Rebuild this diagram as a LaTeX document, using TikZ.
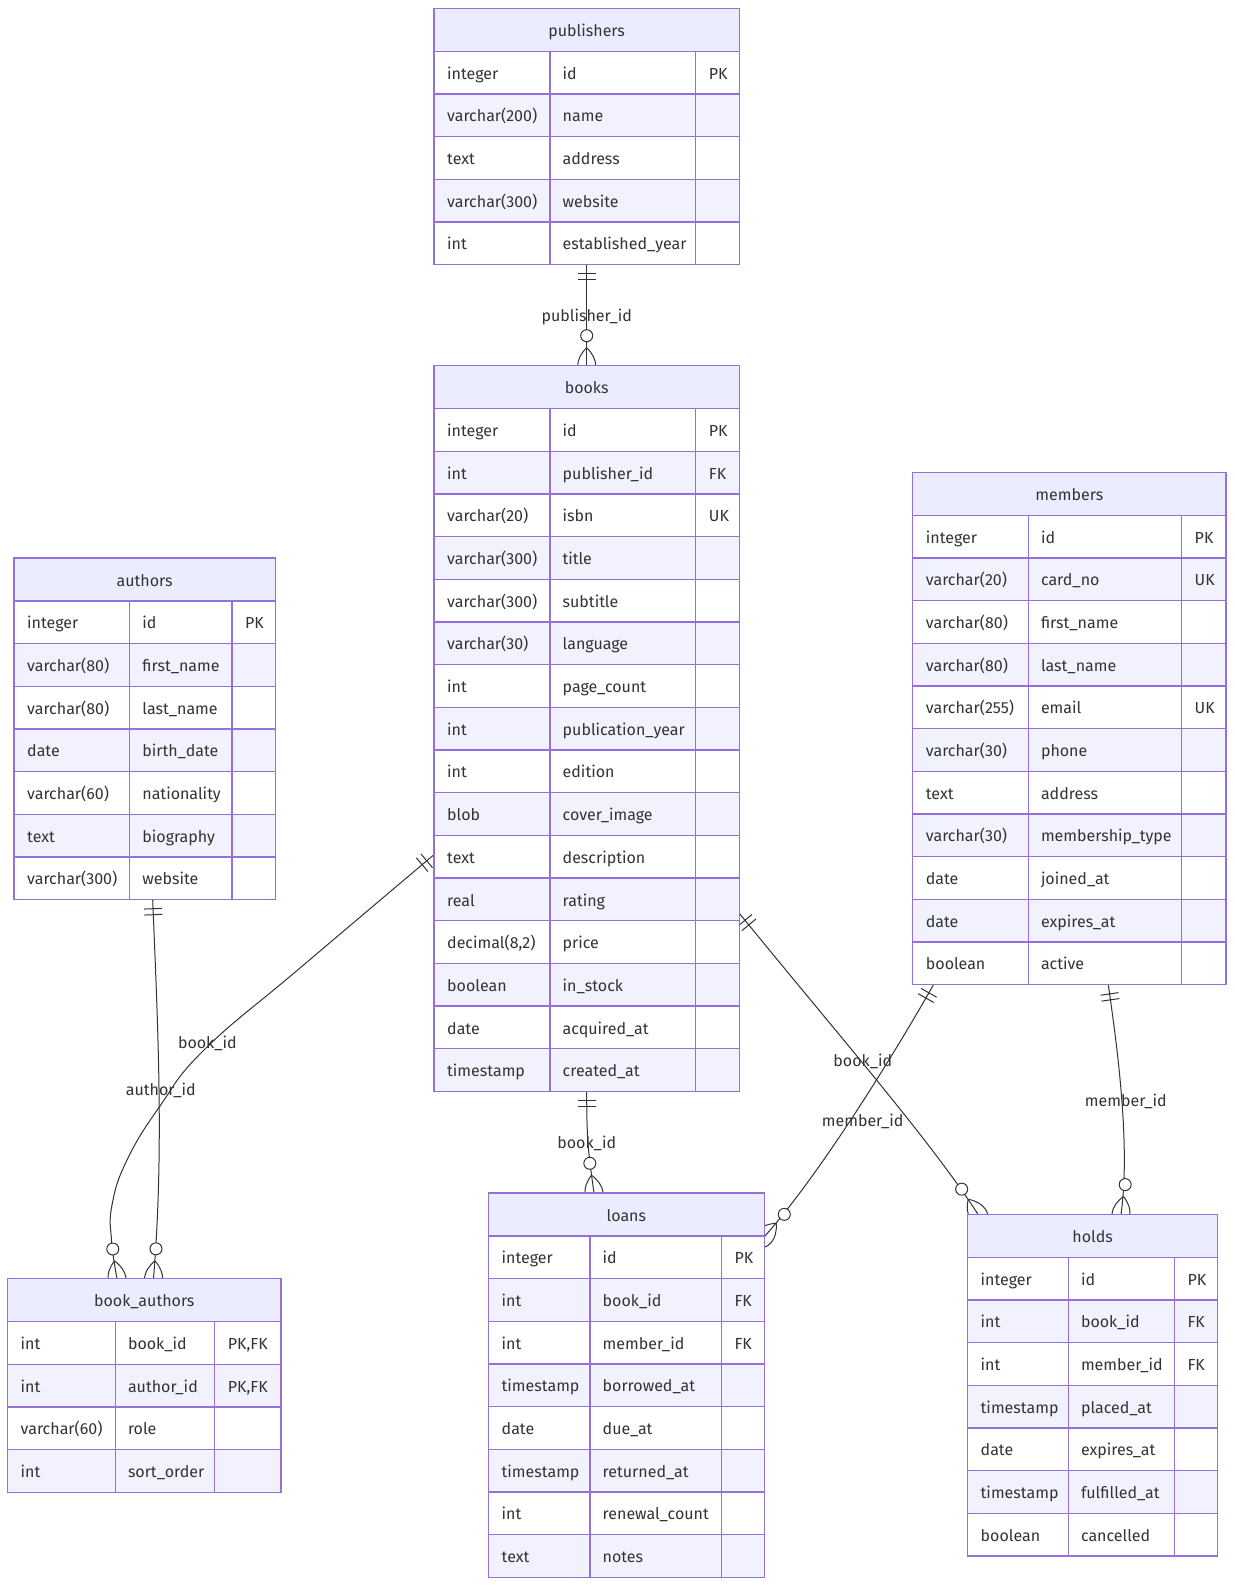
\documentclass[tikz,border=0pt]{standalone}
\usepackage{fontspec}
\setmainfont{Fira Sans}
\usetikzlibrary{calc}
\definecolor{hdr}{HTML}{ECECFF}
\definecolor{rowEven}{HTML}{F2F2FF}
\definecolor{bord}{HTML}{9370DB}
\definecolor{ink}{HTML}{333333}
\tikzset{
  cellbox/.style={draw=bord, line width=1.3pt},
  celltext/.style={anchor=base west, inner sep=0pt, text=ink, font=\fontsize{16}{19}\selectfont},
  titletext/.style={anchor=base, inner sep=0pt, text=ink, font=\fontsize{16}{19}\selectfont},
  edge/.style={draw=ink, line width=1pt},
  elabel/.style={inner sep=0pt, text=ink, font=\fontsize{16}{19}\selectfont},
}
% #1 name, #2 title, #3 xl, #4 ytop, #5 c1, #6 c2, #7 xr, #8 rows
\newcommand\ertable[8]{%
  \coordinate (#1) at (#3,#4);
  \path[cellbox, fill=hdr] (#3,#4) rectangle (#7,#4+43);
  \node[titletext] (#1-title) at ({(#3+#7)/2},#4+21.5+6.6) {#2};
  \foreach \ty/\nm/\ky [count=\i] in {#8} {
    \pgfmathsetmacro\yt{#4+43+(\i-1)*42.67}
    \pgfmathsetmacro\yb{\yt+42.67}
    \pgfmathsetmacro\yc{\yt+21.33+6.6}
    \ifodd\i\relax\def\rc{white}\else\def\rc{rowEven}\fi
    \path[cellbox, fill=\rc] (#3,\yt) rectangle (#5,\yb);
    \path[cellbox, fill=\rc] (#5,\yt) rectangle (#6,\yb);
    \path[cellbox, fill=\rc] (#6,\yt) rectangle (#7,\yb);
    \node[celltext] (#1-t\i) at (#3+13,\yc) {\ty};
    \node[celltext] (#1-n\i) at (#5+12.5,\yc) {\nm};
    \node[celltext] (#1-k\i) at (#6+13,\yc) {\ky};
  }
}
% exactly-one marker at start: #1 coordinate, #2 direction angle (pixel frame)
\newcommand\onestart[2]{%
  \draw[edge] ($(#1)+(#2:9)+(#2+90:9)$) -- ($(#1)+(#2:9)+(#2-90:9)$);
  \draw[edge] ($(#1)+(#2:15)+(#2+90:9)$) -- ($(#1)+(#2:15)+(#2-90:9)$);
}
% zero-or-more marker at end: #1 coordinate, #2 direction angle of travel
\newcommand\manyend[2]{%
  \draw[edge] ($(#1)+(#2+180:18)$)
     .. controls ($(#1)+(#2+180:6)+(#2+90:12)$) and ($(#1)+(#2:6)+(#2+90:12)$) .. ($(#1)+(#2:18)$)
     .. controls ($(#1)+(#2:6)+(#2-90:12)$) and ($(#1)+(#2+180:6)+(#2-90:12)$) .. ($(#1)+(#2+180:18)$);
  \draw[edge, fill=white] ($(#1)+(#2+180:30)$) circle[radius=6pt];
}
\begin{document}
\begin{tikzpicture}[x=1pt, y=-1pt]
\fill[white] (0,0) rectangle (1234,1586);
\useasboundingbox (0,0) rectangle (1234,1586);

% ---------- connector end points ----------
\coordinate (e1s) at (586.7,264.7);  \coordinate (e1e) at (586.7,365.7);
\coordinate (e2s) at (152.7,899.7);  \coordinate (e2e) at (153.5,1278.7);
\coordinate (e3s) at (433.6,855);    \coordinate (e3e) at (117,1278.7);
\coordinate (e4s) at (586.7,1091.4); \coordinate (e4e) at (594,1193);
\coordinate (e5s) at (739.3,913.3);  \coordinate (e5e) at (978,1214.3);
\coordinate (e6s) at (933.3,985);    \coordinate (e6e) at (764.3,1236.7);
\coordinate (e7s) at (1108.3,985);   \coordinate (e7e) at (1121,1214.3);

% ---------- connectors ----------
\draw[edge] (e1s) -- (e1e);
\draw[edge] (e2s) .. controls (158,1030) and (164,1150) .. (e2e);
\draw[edge] plot[smooth, tension=0.75] coordinates {(e3s) (300,968) (205,1049) (160,1106) (127,1160) (112,1205) (111.5,1240) (e3e)};
\draw[edge] (e4s) .. controls (586.7,1140) and (588,1150) .. (e4e);
\draw[edge] (e5s) .. controls (840,1037) and (930,1140) .. (e5e);
\draw[edge] (e6s) .. controls (903.9,1037.3) and (824.3,1169.6) .. (e6e);
\draw[edge] (e7s) .. controls (1116.9,1044.4) and (1130.7,1145) .. (e7e);

\onestart{e1s}{90}    \manyend{e1e}{90}
\onestart{e2s}{87.7}  \manyend{e2e}{94.7}
\onestart{e3s}{139.8} \manyend{e3e}{81.9}
\onestart{e4s}{90}    \manyend{e4e}{82}
\onestart{e5s}{50.1}  \manyend{e5e}{57}
\onestart{e6s}{119.4} \manyend{e6e}{131.8}
\onestart{e7s}{81.8}  \manyend{e7e}{98}

% ---------- tables ----------
\ertable{publishers}{publishers}{434}{8.3}{550}{695.7}{739.3}{%
  integer/id/PK, varchar(200)/name/{}, text/address/{}, varchar(300)/website/{}, int/established\_year/{}}

\ertable{books}{books}{434}{365.7}{550}{695.7}{739.3}{%
  integer/id/PK, int/publisher\_id/FK, varchar(20)/isbn/UK, varchar(300)/title/{},
  varchar(300)/subtitle/{}, varchar(30)/language/{}, int/page\_count/{}, int/publication\_year/{},
  int/edition/{}, blob/cover\_image/{}, text/description/{}, real/rating/{},
  {decimal(8,2)}/price/{}, boolean/in\_stock/{}, date/acquired\_at/{}, timestamp/created\_at/{}}

\ertable{authors}{authors}{14}{558}{129.7}{232}{275.3}{%
  integer/id/PK, varchar(80)/first\_name/{}, varchar(80)/last\_name/{}, date/birth\_date/{},
  varchar(60)/nationality/{}, text/biography/{}, varchar(300)/website/{}}

\ertable{members}{members}{912.7}{472.3}{1028.3}{1181.5}{1226}{%
  integer/id/PK, varchar(20)/card\_no/UK, varchar(80)/first\_name/{}, varchar(80)/last\_name/{},
  varchar(255)/email/UK, varchar(30)/phone/{}, text/address/{}, varchar(30)/membership\_type/{},
  date/joined\_at/{}, date/expires\_at/{}, boolean/active/{}}

\ertable{bookauthors}{book\_authors}{7.5}{1278.7}{115.3}{214.7}{281}{%
  int/book\_id/{PK,FK}, int/author\_id/{PK,FK}, varchar(60)/role/{}, int/sort\_order/{}}

\ertable{loans}{loans}{488.5}{1193}{590}{721.3}{764.3}{%
  integer/id/PK, int/book\_id/FK, int/member\_id/FK, timestamp/borrowed\_at/{},
  date/due\_at/{}, timestamp/returned\_at/{}, int/renewal\_count/{}, text/notes/{}}

\ertable{holds}{holds}{967.5}{1214.3}{1068.3}{1174.3}{1217.7}{%
  integer/id/PK, int/book\_id/FK, int/member\_id/FK, timestamp/placed\_at/{},
  date/expires\_at/{}, timestamp/fulfilled\_at/{}, boolean/cancelled/{}}

% ---------- connector labels ----------
\node[elabel] (l1) at (586.7,316.6) {publisher\_id};
\node[elabel] (l2) at (160.8,1090.4) {author\_id};
\node[elabel] (l3) at (207.4,1043.8) {book\_id};
\node[elabel] (l4) at (586.7,1143) {book\_id};
\node[elabel] (l5) at (862.8,1061.7) {book\_id};
\node[elabel] (l6) at (862.7,1121.7) {member\_id};
\node[elabel] (l7) at (1125.8,1101.7) {member\_id};
\end{tikzpicture}
\end{document}
